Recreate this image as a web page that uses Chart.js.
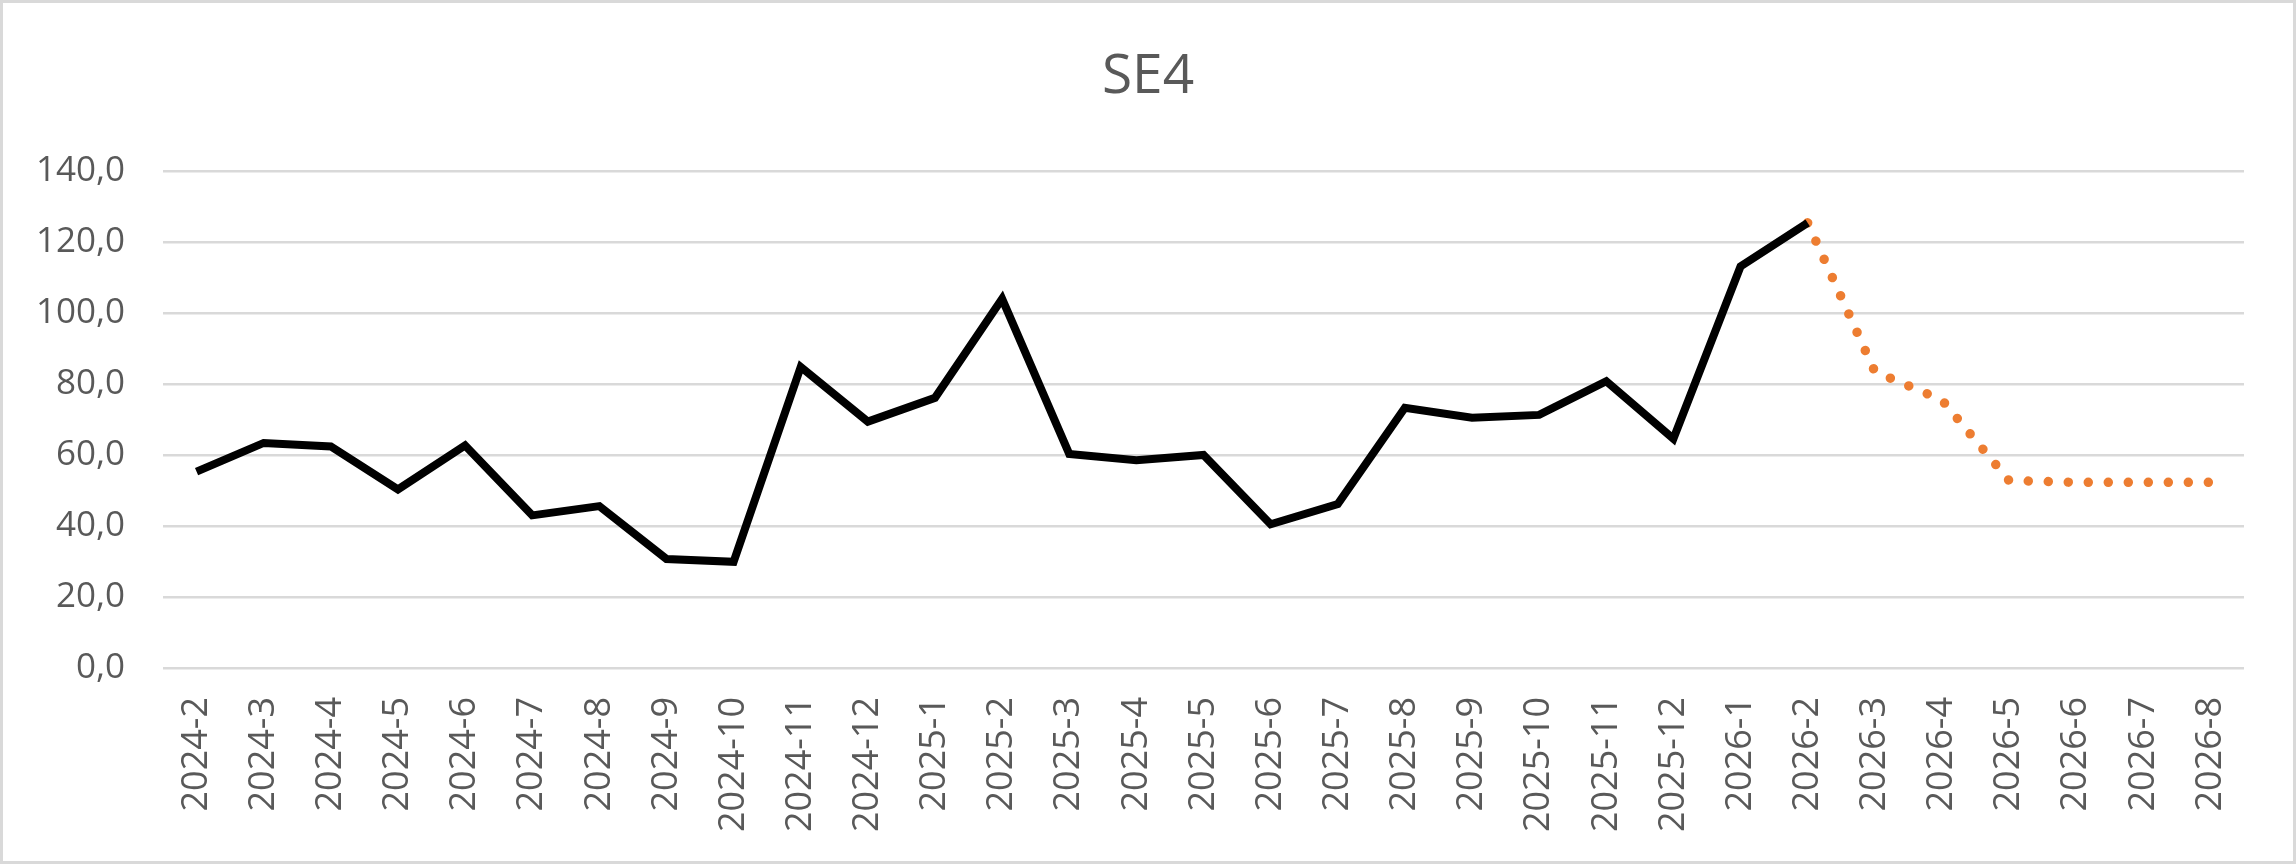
<!DOCTYPE html>
<html>
<head>
<meta charset="utf-8">
<script src="https://cdn.jsdelivr.net/npm/chart.js@4/dist/chart.umd.min.js"></script>
<style>
  html, body { margin: 0; padding: 0; background: #ffffff; }
  canvas { display: block; }
</style>
</head>
<body>
<canvas id="c" width="2296" height="864"></canvas>
<script>
const categories = [
  '2024-2','2024-3','2024-4','2024-5','2024-6','2024-7','2024-8','2024-9','2024-10','2024-11','2024-12',
  '2025-1','2025-2','2025-3','2025-4','2025-5','2025-6','2025-7','2025-8','2025-9','2025-10','2025-11','2025-12',
  '2026-1','2026-2','2026-3','2026-4','2026-5','2026-6','2026-7','2026-8'
];
const actualValues = [
  55.3, 63.4, 62.4, 50.3, 62.7, 43.0, 45.6, 30.7, 29.9, 84.8, 69.4,
  76.1, 104.0, 60.3, 58.5, 60.0, 40.5, 46.2, 73.3, 70.5, 71.3, 80.8, 64.6,
  113.1, 125.4, null, null, null, null, null, null
];
const forecastValues = [
  null, null, null, null, null, null, null, null, null, null, null,
  null, null, null, null, null, null, null, null, null, null, null, null,
  null, 125.4, 83.5, 75.5, 52.8, 52.3, 52.3, 52.3
];
const yTickLabels = ['0,0','20,0','40,0','60,0','80,0','100,0','120,0','140,0'];
const chartTitle = 'SE4';

const outerBorder = {
  id: 'outerBorder',
  afterDraw(chart) {
    const ctx = chart.ctx;
    ctx.save();
    ctx.strokeStyle = '#d9d9d9';
    ctx.lineWidth = 3;
    ctx.strokeRect(1.5, 1.5, chart.width - 3, chart.height - 3);
    ctx.restore();
  }
};

new Chart(document.getElementById('c'), {
  type: 'line',
  data: {
    labels: categories,
    datasets: [
      {
        label: 'SE4',
        data: actualValues,
        borderColor: '#000000',
        borderWidth: 8,
        pointRadius: 0,
        tension: 0,
        fill: false,
        spanGaps: false
      },
      {
        label: 'Prognos',
        data: forecastValues,
        borderColor: '#ED7D31',
        borderWidth: 9.5,
        borderDash: [0.01, 20],
        borderCapStyle: 'round',
        pointRadius: 0,
        tension: 0,
        fill: false,
        spanGaps: false
      }
    ]
  },
  options: {
    responsive: false,
    animation: false,
    devicePixelRatio: 1,
    layout: { padding: { left: 0, right: 0, top: 0, bottom: 0 } },
    plugins: {
      legend: { display: false },
      tooltip: { enabled: false },
      title: {
        display: true,
        text: chartTitle,
        color: '#595959',
        font: { family: 'Open Sans', size: 55, weight: 'normal', lineHeight: 1.2 },
        padding: { top: 44, bottom: 61 }
      }
    },
    scales: {
      x: {
        offset: true,
        grid: { display: false, drawTicks: false },
        border: { display: false },
        ticks: {
          autoSkip: false,
          minRotation: 90,
          maxRotation: 90,
          padding: 29,
          color: '#595959',
          font: { family: 'Open Sans', size: 36 }
        },
        afterFit(scale) { scale.height = 196; }
      },
      y: {
        min: 0,
        max: 140,
        ticks: {
          stepSize: 20,
          padding: 38,
          color: '#595959',
          font: { family: 'Open Sans', size: 35 },
          callback: (v, i) => yTickLabels[i]
        },
        grid: { color: '#d9d9d9', lineWidth: 2.5, drawTicks: false },
        border: { display: false },
        afterFit(scale) { scale.width = 163; }
      },
      yRight: {
        type: 'linear',
        position: 'right',
        display: true,
        ticks: { display: false },
        grid: { display: false, drawTicks: false },
        border: { display: false },
        afterFit(scale) { scale.width = 52; }
      }
    }
  },
  plugins: [outerBorder]
});
</script>
</body>
</html>
